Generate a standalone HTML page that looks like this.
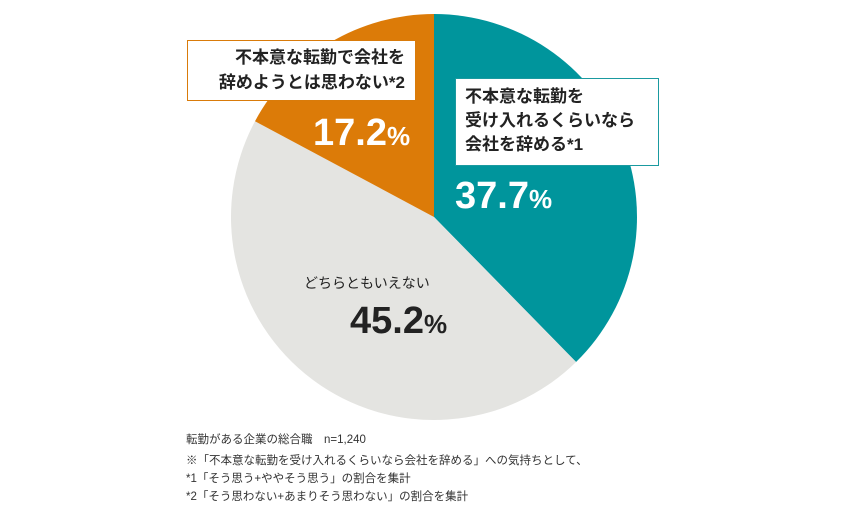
<!DOCTYPE html>
<html><head><meta charset="utf-8"><style>
body{margin:0;background:#fff;width:865px;height:510px;overflow:hidden;font-family:"Liberation Sans","Noto Sans CJK JP",sans-serif}
svg text{font-family:"Liberation Sans","Noto Sans CJK JP",sans-serif}
</style></head><body>
<svg width="865" height="510">
<g id="slices"></g>
<rect x="187.5" y="40.5" width="228" height="60" fill="#fff" stroke="#d97b0a"/>
<text x="405" y="63" text-anchor="end" font-size="17" font-weight="bold" fill="#222">不本意な転勤で会社を</text>
<text x="405" y="88" text-anchor="end" font-size="17" font-weight="bold" fill="#222">辞めようとは思わない*2</text>
<rect x="455.5" y="78.5" width="203" height="87" fill="#fff" stroke="#1a9aa0"/>
<text x="465" y="102" font-size="17" font-weight="bold" fill="#222">不本意な転勤を</text>
<text x="465" y="126" font-size="17" font-weight="bold" fill="#222">受け入れるくらいなら</text>
<text x="465" y="150" font-size="17" font-weight="bold" fill="#222">会社を辞める*1</text>
<text x="313" y="145" font-size="38" font-weight="bold" fill="#fff">17.2<tspan font-size="26">%</tspan></text>
<text x="455" y="208" font-size="38" font-weight="bold" fill="#fff">37.7<tspan font-size="26">%</tspan></text>
<text x="304" y="288" font-size="14" fill="#222">どちらともいえない</text>
<text x="350" y="333" font-size="38" font-weight="bold" fill="#222">45.2<tspan font-size="26">%</tspan></text>
<g font-size="11.5" fill="#333">
<text x="186" y="443">転勤がある企業の総合職　n=1,240</text>
<text x="186" y="464">※「不本意な転勤を受け入れるくらいなら会社を辞める」への気持ちとして、</text>
<text x="186" y="482">*1「そう思う+ややそう思う」の割合を集計</text>
<text x="186" y="500">*2「そう思わない+あまりそう思わない」の割合を集計</text>
</g>
</svg>
<script>
const categories=["teal","gray","orange"];
const values=[37.7,45.2,17.2];
const colors=["#00959c","#e4e4e1","#dc7b08"];
const cx=434,cy=217,r=203;
const g=document.getElementById('slices');
const total=values.reduce((a,b)=>a+b,0);
let a0=0;
values.forEach((v,i)=>{
  const a1=a0+v/total*2*Math.PI;
  const x0=cx+r*Math.sin(a0),y0=cy-r*Math.cos(a0),x1=cx+r*Math.sin(a1),y1=cy-r*Math.cos(a1);
  const p=document.createElementNS('http://www.w3.org/2000/svg','path');
  p.setAttribute('d',`M${cx},${cy}L${x0},${y0}A${r},${r} 0 ${a1-a0>Math.PI?1:0} 1 ${x1},${y1}Z`);
  p.setAttribute('fill',colors[i]);
  
  
  g.appendChild(p);
  a0=a1;
});
</script>
</body></html>
